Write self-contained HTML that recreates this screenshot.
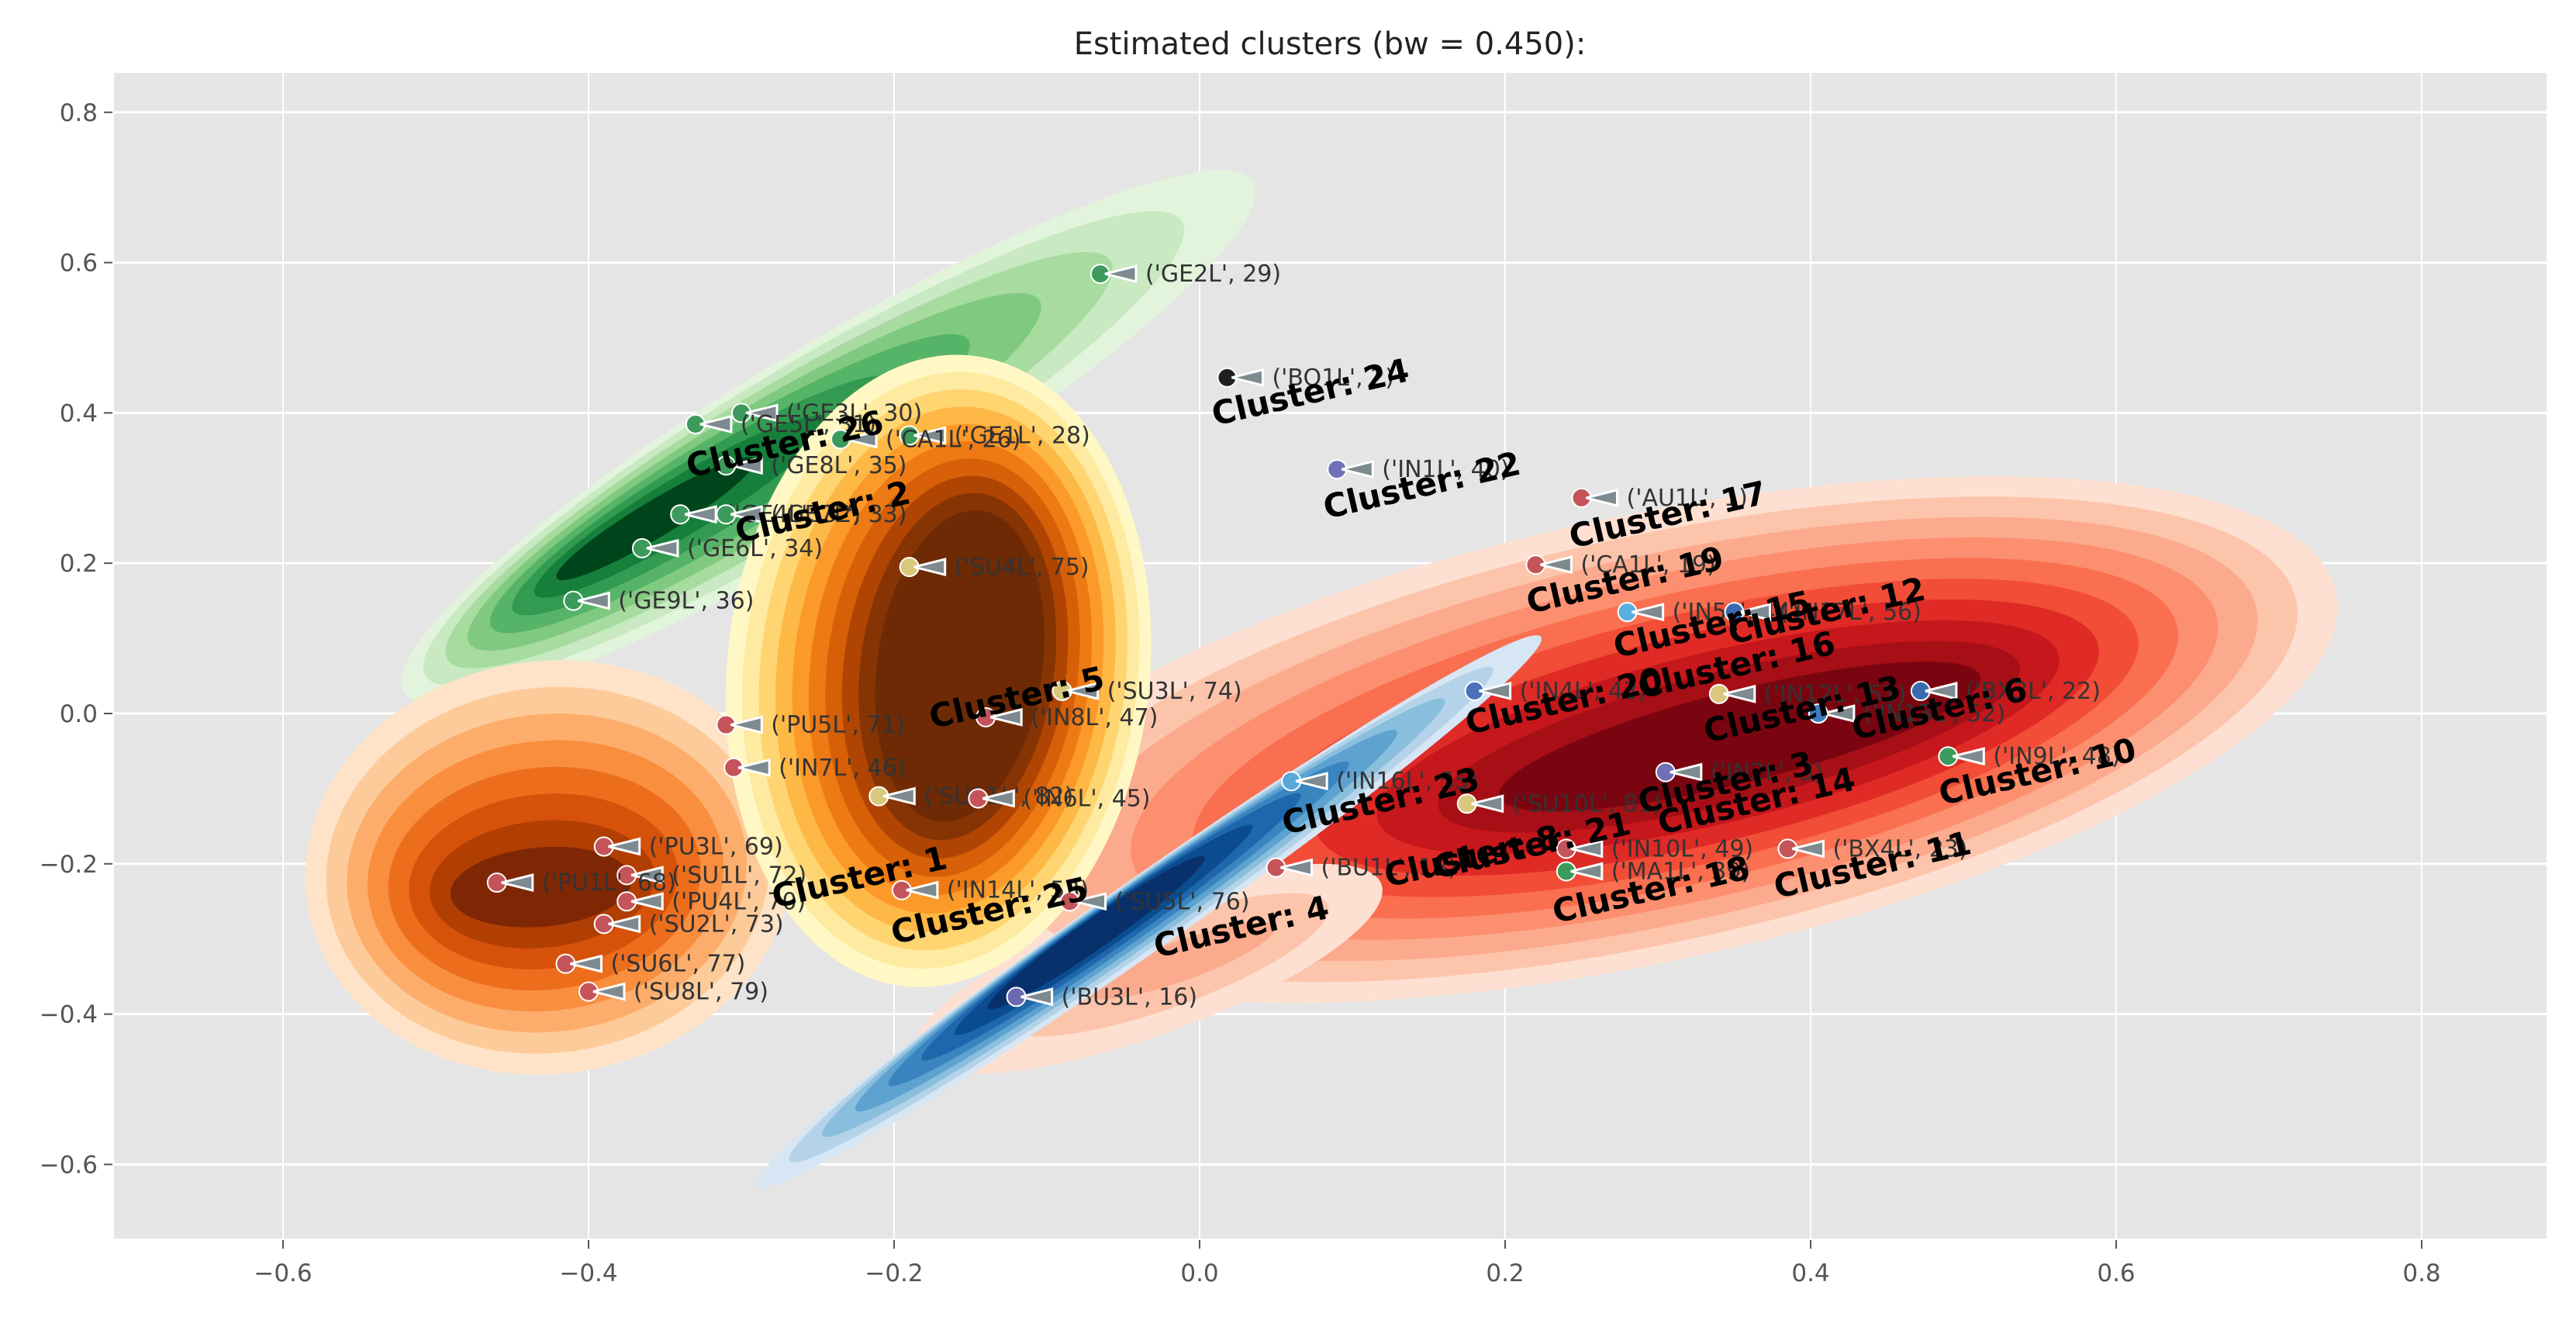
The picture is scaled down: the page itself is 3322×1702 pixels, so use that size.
<!DOCTYPE html>
<html><head><meta charset="utf-8"><style>
html,body{margin:0;padding:0;background:#fff}
svg{display:block}
text{font-family:"DejaVu Sans","Liberation Sans",sans-serif}
</style></head><body>
<svg id="chart" width="3322" height="1702" viewBox="0 0 3322 1702" xmlns="http://www.w3.org/2000/svg">
<rect x="147" y="94" width="3137" height="1503" fill="#e5e5e5"/>
<g id="grid"></g><g id="kde"></g><g id="pts"></g><g id="clabels"></g><g id="axes"></g>
<text x="1715" y="70" text-anchor="middle" font-size="40" fill="#222">Estimated clusters (bw = 0.450):</text>
</svg>
<script>
const xTicks=[-0.6,-0.4,-0.2,0.0,0.2,0.4,0.6,0.8];
const xTickLabels=["\u22120.6","\u22120.4","\u22120.2","0.0","0.2","0.4","0.6","0.8"];
const yTicks=[0.8,0.6,0.4,0.2,0.0,-0.2,-0.4,-0.6];
const yTickLabels=["0.8","0.6","0.4","0.2","0.0","\u22120.2","\u22120.4","\u22120.6"];
const pointNames=["('GE2L', 29)","('GE3L', 30)","('GE5L', 31)","('GE1L', 28)","('CA1L', 26)","('GE8L', 35)","('GE4L', 32)","('GE7L', 33)","('GE6L', 34)","('GE9L', 36)","('SU4L', 75)","('SU3L', 74)","('SU11L', 82)","('IN8L', 47)","('PU5L', 71)","('IN7L', 46)","('PU3L', 69)","('SU1L', 72)","('PU1L', 68)","('PU4L', 70)","('SU2L', 73)","('SU6L', 77)","('SU8L', 79)","('IN14L', 53)","('SU5L', 76)","('IN6L', 45)","('AU1L', 1)","('CA1L', 19)","('BX4L', 23)","('BU1L', 18)","('BU3L', 16)","('IN16L', 55)","('IN4L', 43)","('IN5L', 44)","('IN17L', 56)","('IN13L', 52)","('IN9L', 48)","('BO1L', 2)","('IN1L', 40)","('IN12L', 51)","('SU10L', 81)","('BX3L', 22)","('MA1L', 39)","('IN10L', 49)","('IN2L', 3)"];
const pointX=[-0.065,-0.30,-0.33,-0.19,-0.235,-0.31,-0.34,-0.31,-0.365,-0.41,-0.19,-0.09,-0.21,-0.14,-0.31,-0.305,-0.39,-0.375,-0.46,-0.375,-0.39,-0.415,-0.40,-0.195,-0.085,-0.145,0.25,0.22,0.385,0.05,-0.12,0.06,0.18,0.28,0.35,0.405,0.49,0.018,0.09,0.34,0.175,0.472,0.24,0.24,0.305];
const pointY=[0.585,0.40,0.385,0.37,0.365,0.33,0.265,0.265,0.22,0.15,0.195,0.03,-0.11,-0.005,-0.015,-0.072,-0.177,-0.215,-0.225,-0.25,-0.28,-0.333,-0.37,-0.235,-0.25,-0.113,0.287,0.198,-0.18,-0.205,-0.377,-0.09,0.03,0.135,0.135,0.0,-0.057,0.447,0.325,0.026,-0.12,0.03,-0.21,-0.18,-0.078];
const pointColors=["#3c9a5c","#3c9a5c","#3c9a5c","#3c9a5c","#3c9a5c","#3c9a5c","#3c9a5c","#3c9a5c","#3c9a5c","#3c9a5c","#d8c87c","#d8c87c","#d8c87c","#c4545a","#c4545a","#c4545a","#c4545a","#c4545a","#c4545a","#c4545a","#c4545a","#c4545a","#c4545a","#c4545a","#c4545a","#c4545a","#c4545a","#c4545a","#c4545a","#c4545a","#6a6ab0","#58a8dc","#4a72b8","#58b0e0","#3a6ab0","#3a80c0","#3c9a5c","#202020","#7070b8","#d8c87c","#d8c87c","#3a6ab0","#3c9a5c","#c4545a","#7070b8"];
const clusterNames=["Cluster: 24","Cluster: 26","Cluster: 2","Cluster: 22","Cluster: 17","Cluster: 19","Cluster: 15","Cluster: 12","Cluster: 20","Cluster: 16","Cluster: 5","Cluster: 13","Cluster: 6","Cluster: 23","Cluster: 10","Cluster: 3","Cluster: 14","Cluster: 1","Cluster: 21","Cluster: 8","Cluster: 18","Cluster: 11","Cluster: 25","Cluster: 4"];
const clusterX=[0.010,-0.334,-0.302,0.083,0.244,0.216,0.273,0.348,0.176,0.289,-0.175,0.332,0.429,0.056,0.486,0.289,0.302,-0.278,0.155,0.123,0.233,0.378,-0.200,-0.028];
const clusterY=[0.383,0.314,0.227,0.259,0.220,0.133,0.074,0.092,-0.028,0.020,-0.020,-0.039,-0.035,-0.161,-0.122,-0.133,-0.161,-0.259,-0.220,-0.231,-0.279,-0.246,-0.307,-0.325];

const NS="http://www.w3.org/2000/svg";
function X(v){return 1547+v*1970;}
function Y(v){return 920-v*969;}
function mk(tag,parent,attrs){const e=document.createElementNS(NS,tag);for(const k in attrs)e.setAttribute(k,attrs[k]);parent.appendChild(e);return e;}
const grid=document.getElementById('grid'),axes=document.getElementById('axes');
xTicks.forEach((t,i)=>{
  const l=mk('line',grid,{x1:X(t),x2:X(t),y1:94,y2:1597,stroke:'#fff','stroke-width':2});
  
  
  const tk=mk('line',axes,{x1:X(t),x2:X(t),y1:1599,y2:1610,stroke:'#555','stroke-width':2});
  
  
  const tx=mk('text',axes,{x:X(t),y:1652,'text-anchor':'middle','font-size':31,fill:'#555'});
  tx.textContent=xTickLabels[i];
  
  
});
yTicks.forEach((t,i)=>{
  const l=mk('line',grid,{x1:147,x2:3284,y1:Y(t),y2:Y(t),stroke:'#fff','stroke-width':3});
  
  
  const tk=mk('line',axes,{x1:134,x2:145,y1:Y(t),y2:Y(t),stroke:'#555','stroke-width':2});
  
  
  const tx=mk('text',axes,{x:126,y:Y(t)+11,'text-anchor':'end','font-size':31,fill:'#555'});
  tx.textContent=yTickLabels[i];
  
  
});
function dx(px){return (px-731)/930;} function dy(py){return (434-py)/459;}
const S=2.1295;
const kdes=[
 {n:'kde-red',o:[1000,450,430,135,-12],c:[1060,448,150,28,-14],cols:['#fee0d2','#fcc5ab','#fcaa8e','#fc8f6f','#f96f50','#f24d37','#df2a26','#c5171c','#a60f15','#7a0510']},
 {n:'kde-red-tail',o:[700,590,150,40,-20],c:[720,585,60,12,-20],cols:['#fee0d2','#fcc5ab','#fcaa8e']},
 {n:'kde-green',o:[505,265,300,55,-31],c:[400,315,70,11,-31],cols:['#e2f4dc','#c8e9c1','#a7dba0','#80c980','#56b468','#329b51','#157f3b','#00441b']},
 {n:'kde-orange',o:[335,528,148,125,-8],c:[330,540,55,24,-5],cols:['#fee3c8','#fdcb9a','#fdad6b','#f98e3f','#ec6e1c','#d6520a','#b13e03','#7f2704']},
 {n:'kde-yellow',o:[572,408,128,192,6],c:[585,405,50,95,8],cols:['#fff8c4','#feeaa0','#fed571','#feb845','#fb9a29','#ee7a14','#d65f08','#b04503','#873404','#6d2a05']},
 {n:'kde-blue',o:[700,555,290,22,-35],c:[668,568,80,9,-35],cols:['#d6e6f4','#b4d3e9','#89bfdd','#5da2d0','#3a85c0','#1f67ac','#0b4c90','#08306b']}
];
const kg=document.getElementById('kde');
kdes.forEach(k=>{
  const n=k.cols.length;
  k.cols.forEach((col,i)=>{
    const f=n>1?i/(n-1):0;
    const cx=X(dx(k.o[0]+(k.c[0]-k.o[0])*f)), cy=Y(dy(k.o[1]+(k.c[1]-k.o[1])*f));
    const rx=(k.o[2]+(k.c[2]-k.o[2])*f)*S, ry=(k.o[3]+(k.c[3]-k.o[3])*f)*S;
    const a=k.o[4]+(k.c[4]-k.o[4])*f;
    const e=mk('ellipse',kg,{cx:cx,cy:cy,rx:rx,ry:ry,fill:col,transform:`rotate(${a} ${cx} ${cy})`});
    
    
  });
});
const pg=document.getElementById('pts');
pointNames.forEach((nm,i)=>{
  const px=X(pointX[i]),py=Y(pointY[i]);
  const g=mk('g',pg,{});
  
  
  mk('circle',g,{cx:px,cy:py,r:12,fill:pointColors[i],stroke:'#fff','stroke-width':2});
  mk('polygon',g,{points:`${px+6},${py} ${px+46},${py-10} ${px+46},${py+10}`,fill:'#7d8a90',stroke:'#fff','stroke-width':3});
  const t=mk('text',g,{x:px+58,y:py+10,'font-size':30,fill:'#333'});
  t.textContent=nm;
});
const cg=document.getElementById('clabels');
clusterNames.forEach((nm,i)=>{
  const px=X(clusterX[i]),py=Y(clusterY[i]);
  const t=mk('text',cg,{x:px,y:py,'font-size':42,'font-weight':'bold',fill:'#000',transform:`rotate(-13 ${px} ${py})`});
  t.textContent=nm;
  
  
});
</script>
</body></html>
